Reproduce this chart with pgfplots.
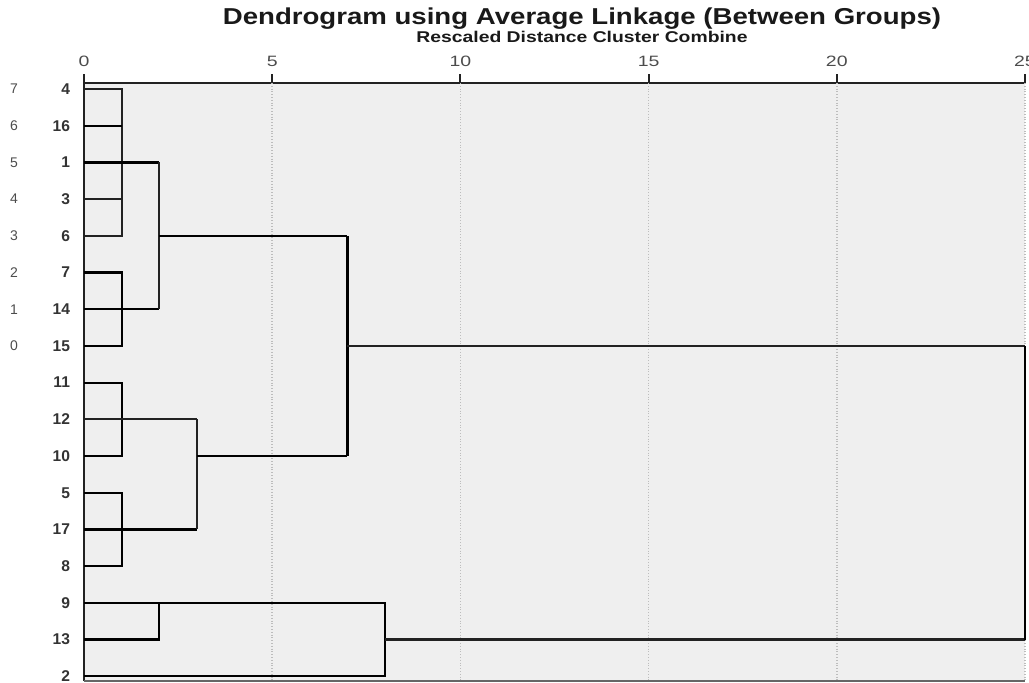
\documentclass[border=0pt]{standalone}
\usepackage{pgfplots}
\pgfplotsset{compat=1.18}
\usepackage{graphicx}
\usepackage{fontspec}
\setmainfont{Liberation Sans}
\definecolor{bg}{HTML}{EFEFEF}
\definecolor{ln}{HTML}{222222}
\definecolor{grd}{HTML}{BDBDBD}
\begin{document}
\begin{tikzpicture}
\useasboundingbox (0,0) rectangle (514.5pt,341pt);
\begin{axis}[
  at={(42pt,0.5pt)}, anchor=south west,
  scale only axis, width=470.5pt, height=299pt,
  xmin=0, xmax=25, ymin=-0.163, ymax=16.13,
  y dir=reverse,
  axis x line*=top, axis y line*=left,
  x axis line style={-, line width=1.1pt, color=ln},
  y axis line style={-, line width=1.3pt, color=ln},
  xtick={0,5,10,15,20,25},
  xticklabel style={font=\fontsize{7.5}{8}\selectfont, text=black!70},
  xticklabel={\scalebox{1.3}[1]{\pgfmathprintnumber[assume math mode=true]{\tick}}},
  tick align=outside,
  major tick length=4.5pt,
  every tick/.style={line width=1pt, color=ln},
  ytick={0,...,16},
  yticklabels={4,16,1,3,6,7,14,15,11,12,10,5,17,8,9,13,2},
  yticklabel style={font=\bfseries\fontsize{7.8}{9}\selectfont, text=black!80, xshift=1pt},
  ytick style={draw=none},
  extra x ticks={5,10,15,20,25},
  extra x tick labels={},
  extra x tick style={grid=major, major grid style={densely dotted, grd, line width=0.8pt}, tick style={draw=none}},
  axis background/.style={fill=bg},
  clip=false,
  cycle list={{ln, solid, mark=none}},
  every axis plot/.append style={line width=1.1pt},
]
% cluster 4,16,1,3,6
\addplot coordinates {(0,0) (1,0) (1,4) (0,4)};
\addplot coordinates {(0,1) (1,1)};
\addplot coordinates {(0,2) (2,2)};
\addplot coordinates {(0,3) (1,3)};
% cluster 7,14,15
\addplot coordinates {(0,5) (1,5) (1,7) (0,7)};
\addplot coordinates {(0,6) (2,6)};
\addplot coordinates {(2,2) (2,6)};
\addplot coordinates {(2,4) (7,4)};
% cluster 11,12,10
\addplot coordinates {(0,8) (1,8) (1,10) (0,10)};
\addplot coordinates {(0,9) (3,9)};
% cluster 5,17,8
\addplot coordinates {(0,11) (1,11) (1,13) (0,13)};
\addplot coordinates {(0,12) (3,12)};
\addplot coordinates {(3,9) (3,12)};
\addplot coordinates {(3,10) (7,10)};
\addplot coordinates {(7,4) (7,10)};
\addplot coordinates {(7,7) (25,7)};
% cluster 9,13,2
\addplot coordinates {(0,14) (2,14) (2,15) (0,15)};
\addplot coordinates {(2,14) (8,14) (8,16) (0,16)};
\addplot coordinates {(8,15) (25,15)};
\addplot coordinates {(25,7) (25,15)};
% left stray numbers
\node[font=\fontsize{7}{8}\selectfont, text=black!70] at (axis cs:-1.86,0) {7};
\node[font=\fontsize{7}{8}\selectfont, text=black!70] at (axis cs:-1.86,1) {6};
\node[font=\fontsize{7}{8}\selectfont, text=black!70] at (axis cs:-1.86,2) {5};
\node[font=\fontsize{7}{8}\selectfont, text=black!70] at (axis cs:-1.86,3) {4};
\node[font=\fontsize{7}{8}\selectfont, text=black!70] at (axis cs:-1.86,4) {3};
\node[font=\fontsize{7}{8}\selectfont, text=black!70] at (axis cs:-1.86,5) {2};
\node[font=\fontsize{7}{8}\selectfont, text=black!70] at (axis cs:-1.86,6) {1};
\node[font=\fontsize{7}{8}\selectfont, text=black!70] at (axis cs:-1.86,7) {0};
\draw[line width=0.8pt, color=black!60] (rel axis cs:0,0) -- (rel axis cs:1,0);
\end{axis}
\node[font=\bfseries\fontsize{11.5}{13}\selectfont, text=black!90] at (291pt,331.5pt) {\scalebox{1.2}[1]{Dendrogram using Average Linkage (Between Groups)}};
\node[font=\bfseries\fontsize{7.8}{9}\selectfont, text=black!90] at (291pt,322.5pt) {\scalebox{1.24}[1]{Rescaled Distance Cluster Combine}};
\end{tikzpicture}
\end{document}
